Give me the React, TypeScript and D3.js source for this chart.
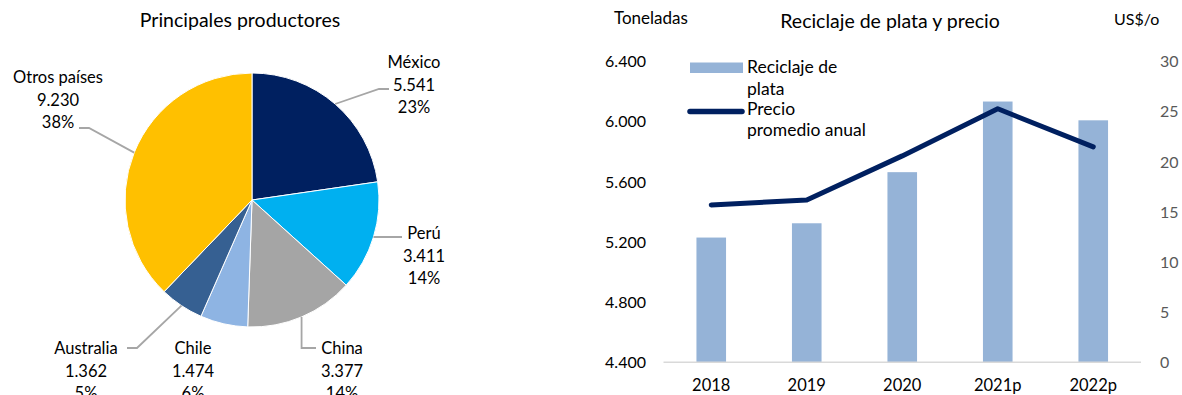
import React from 'react';
import * as d3 from 'd3';

// ---------- DATA ----------
const producers = ['México', 'Perú', 'China', 'Chile', 'Australia', 'Otros países'];
const production = [5541, 3411, 3377, 1474, 1362, 9230];
const productionShare = ['23%', '14%', '14%', '6%', '5%', '38%'];

const years = ['2018', '2019', '2020', '2021p', '2022p'];
const recycling = [5230, 5325, 5665, 6135, 6010];
const price = [15.7, 16.2, 20.6, 25.3, 21.5];
const leftTicks = [4400, 4800, 5200, 5600, 6000, 6400];
const rightTicks = [0, 5, 10, 15, 20, 25, 30];

// ---------- STYLE / LAYOUT ----------
const FONT = 'Lato, "Open Sans", sans-serif';
const sliceColors = ['#002060', '#00B0F0', '#A5A5A5', '#8EB4E3', '#366092', '#FFC000'];
const BAR_COLOR = '#95B3D7';
const LINE_COLOR = '#002060';

const esLocale = d3.formatLocale({ decimal: ',', thousands: '.', grouping: [3], currency: ['', '$'] });
const fmtThousands = esLocale.format(',.0f');

// label layout for pie: text center x, first baseline y, leader elbow points
const pieLabelLayout = [
  { x: 414, y: 68, leader: [[379, 89], [389, 89]] },
  { x: 424, y: 239, leader: [[402, 237]] },
  { x: 342, y: 354, leader: 'china' },
  { x: 193, y: 354, leader: null },
  { x: 86, y: 354, leader: [[137, 348], [127, 348]] },
  { x: 58, y: 83, leader: [[89, 128], [79, 128]] },
];

function PieChart() {
  const cx = 252, cy = 200, r = 127;
  const pie = d3.pie<number>().sort(null).value((d) => d);
  const arcs = pie(production);
  const arcGen = d3.arc<d3.PieArcDatum<number>>().innerRadius(0).outerRadius(r);
  return (
    <g>
      <text x={240} y={27} textAnchor="middle" fontSize={19.5} fill="#000">Principales productores</text>
      <g transform={`translate(${cx},${cy})`}>
        {arcs.map((a, i) => (
          <path key={i} d={arcGen(a) || ''} fill={sliceColors[i]} stroke="#fff" strokeWidth={1} />
        ))}
      </g>
      {arcs.map((a, i) => {
        const mid = (a.startAngle + a.endAngle) / 2;
        const sx = cx + r * Math.sin(mid);
        const sy = cy - r * Math.cos(mid);
        const L = pieLabelLayout[i];
        let pts: number[][] | null = null;
        if (L.leader === 'china') pts = [[sx, sy], [sx, 348], [316, 348]];
        else if (Array.isArray(L.leader)) pts = [[sx, sy], ...(L.leader as number[][])];
        return (
          <g key={i}>
            {pts && (
              <polyline points={pts.map((p) => p.join(',')).join(' ')} fill="none" stroke="#A6A6A6" strokeWidth={1.8} />
            )}
            <text x={L.x} y={L.y} textAnchor="middle" fontSize={16.5} fill="#000">
              <tspan x={L.x} dy={0}>{producers[i]}</tspan>
              <tspan x={L.x} dy={22.5}>{fmtThousands(production[i])}</tspan>
              <tspan x={L.x} dy={22.5}>{productionShare[i]}</tspan>
            </text>
          </g>
        );
      })}
    </g>
  );
}

function ComboChart() {
  const x0 = 663.5, x1 = 1141, yTop = 61.7, yBot = 362.3;
  const x = d3.scaleBand<string>().domain(years).range([x0, x1]).padding(0);
  const yL = d3.scaleLinear().domain([4400, 6400]).range([yBot, yTop]);
  const yR = d3.scaleLinear().domain([0, 30]).range([yBot, yTop]);
  const barW = x.bandwidth() * 0.31;
  const line = d3.line<number>()
    .x((_, i) => (x(years[i]) as number) + x.bandwidth() / 2)
    .y((d) => yR(d));
  return (
    <g>
      <text x={614} y={24} fontSize={17} fill="#000">Toneladas</text>
      <text x={890} y={28} textAnchor="middle" fontSize={19.5} fill="#000">Reciclaje de plata y precio</text>
      <text x={1114} y={25} fontSize={16} fill="#000">US$/o</text>

      {leftTicks.map((t) => (
        <text key={t} x={646} y={yL(t)} dy="0.35em" textAnchor="end" fontSize={16} fill="#000">{fmtThousands(t)}</text>
      ))}
      {rightTicks.map((t) => (
        <text key={t} x={1160} y={yR(t)} dy="0.35em" textAnchor="start" fontSize={16} fill="#595959">{t}</text>
      ))}

      {recycling.map((v, i) => (
        <rect key={i} x={(x(years[i]) as number) + x.bandwidth() / 2 - barW / 2} y={yL(v)} width={barW} height={yBot - yL(v)} fill={BAR_COLOR} />
      ))}
      <line x1={x0} x2={x1} y1={yBot} y2={yBot} stroke="#D9D9D9" strokeWidth={1.5} />

      <path d={line(price) || ''} fill="none" stroke={LINE_COLOR} strokeWidth={5} strokeLinecap="round" strokeLinejoin="round" />

      {years.map((yr) => (
        <text key={yr} x={(x(yr) as number) + x.bandwidth() / 2} y={391} textAnchor="middle" fontSize={16.5} fill="#000">{yr}</text>
      ))}

      {/* legend */}
      <rect x={690} y={62.5} width={53} height={10.5} fill={BAR_COLOR} />
      <text x={747} y={73} fontSize={17.5} fill="#000">
        <tspan x={747} dy={0}>Reciclaje de</tspan>
        <tspan x={747} dy={22}>plata</tspan>
      </text>
      <line x1={690} x2={742} y1={111.5} y2={111.5} stroke={LINE_COLOR} strokeWidth={5.5} strokeLinecap="round" />
      <text x={747} y={115} fontSize={17.5} fill="#000">
        <tspan x={747} dy={0}>Precio</tspan>
        <tspan x={747} dy={21}>promedio anual</tspan>
      </text>
    </g>
  );
}

export default function App() {
  return (
    <svg
      width={1182}
      height={395}
      style={{ position: 'absolute', left: 0, top: 0, display: 'block', background: '#fff' }}
      fontFamily={FONT}
    >
      <rect x={0} y={0} width={1182} height={395} fill="#fff" />
      <PieChart />
      <ComboChart />
    </svg>
  );
}
